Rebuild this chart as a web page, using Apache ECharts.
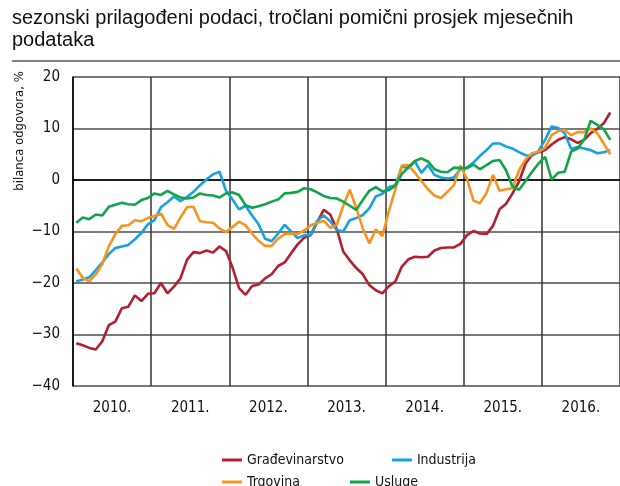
<!DOCTYPE html>
<html lang="hr">
  <head>
    <meta charset="UTF-8" />
    <title>Pokazatelji pouzdanja</title>
    <script src="https://cdn.jsdelivr.net/npm/echarts@6.0.0/dist/echarts.min.js"></script>
    <style>
      * {
        padding: 0;
        margin: 0;
      }
      #main {
        width: 620px;
        height: 486px;
        background: #ffffff;
      }
    </style>
  </head>
  <body>
    <div id="main"></div>
    <script>
      // godine na osi x
      var years = ["2010.", "2011.", "2012.", "2013.", "2014.", "2015.", "2016."];

      // mjeseci od 1/2010 do 12/2016
      var months = [];
      for (var y = 2010; y <= 2016; y++) {
        for (var m = 1; m <= 12; m++) {
          months.push(m + "/" + y);
        }
      }

      var gradjevinarstvo = [
        -31.7, -32.1, -32.6, -32.9, -31.3, -28.2, -27.5, -24.9, -24.6, -22.4,
        -23.5, -22.1, -22.0, -20.0, -22.0, -20.7, -19.1, -15.5, -14.0, -14.2,
        -13.7, -14.1, -12.9, -13.8, -17.0, -21.0, -22.3, -20.6, -20.3, -19.1,
        -18.3, -16.7, -16.0, -14.2, -12.5, -11.2, -10.7, -8.2, -5.8, -6.7,
        -9.5, -13.9, -15.6, -17.1, -18.3, -20.4, -21.4, -22.0, -20.6, -19.7,
        -16.8, -15.4, -14.9, -15.0, -14.9, -13.7, -13.2, -13.1, -13.1, -12.4,
        -10.7, -9.9, -10.4, -10.5, -8.9, -5.7, -4.6, -2.6, -0.3, 3.2,
        4.9, 5.4, 5.8, 6.9, 7.8, 8.3, 7.9, 7.2, 7.8, 9.1,
        9.9, 11.0, 13.1
      ];
      var industrija = [
        -19.7, -19.3, -18.9, -17.5, -16.0, -14.4, -13.2, -12.9, -12.6, -11.5,
        -10.3, -8.6, -7.8, -5.3, -4.3, -3.2, -4.1, -3.3, -2.3, -1.0,
        0.1, 1.1, 1.6, -2.1, -3.8, -5.7, -5.0, -6.9, -8.6, -11.4,
        -11.9, -10.4, -8.7, -10.0, -11.3, -10.7, -10.7, -7.9, -6.9, -8.0,
        -9.7, -10.0, -7.8, -7.4, -6.8, -5.5, -3.2, -2.7, -1.4, -1.0,
        2.6, 2.3, 3.6, 1.4, 2.9, 1.0, 0.5, 0.3, 0.5, 2.1,
        2.4, 3.4, 4.7, 5.8, 7.1, 7.1, 6.5, 6.1, 5.4, 4.8,
        4.7, 5.7, 7.8, 10.4, 10.1, 9.1, 6.0, 6.4, 6.1, 5.8,
        5.2, 5.4, 5.8
      ];
      var trgovina = [
        -17.2, -19.0, -19.7, -18.3, -16.3, -12.9, -10.5, -8.9, -8.8, -7.8,
        -8.0, -7.4, -7.0, -6.5, -8.7, -9.5, -7.3, -5.3, -5.2, -8.0,
        -8.2, -8.3, -9.4, -10.1, -9.1, -8.1, -8.8, -10.4, -11.8, -12.8,
        -12.8, -11.4, -10.5, -10.4, -10.5, -9.8, -8.8, -8.3, -7.9, -9.3,
        -8.7, -5.0, -1.9, -5.4, -9.4, -12.3, -9.6, -10.9, -6.1, -1.8,
        2.8, 2.9, 1.4, -0.2, -1.8, -3.0, -3.5, -2.3, -1.0, 2.8,
        0.2, -4.0, -4.5, -2.5, 1.0, -2.1, -1.8, -1.6, 1.9, 4.0,
        5.2, 5.5, 6.3, 8.7, 9.5, 9.7, 8.7, 9.3, 9.3, 10.0,
        9.1, 7.1, 5.0
      ];
      var usluge = [
        -8.3, -7.3, -7.6, -6.7, -6.9, -5.2, -4.8, -4.4, -4.7, -4.8,
        -3.9, -3.5, -2.6, -2.9, -2.1, -2.8, -3.4, -3.6, -3.4, -2.6,
        -2.9, -3.0, -3.4, -2.6, -2.4, -2.9, -4.9, -5.4, -5.1, -4.7,
        -4.2, -3.8, -2.6, -2.5, -2.3, -1.6, -1.8, -2.4, -3.1, -3.5,
        -3.6, -4.2, -5.0, -5.8, -3.9, -2.1, -1.4, -2.2, -2.0, -1.1,
        1.2, 2.5, 3.7, 4.2, 3.6, 2.1, 1.6, 1.5, 2.4, 2.3,
        2.3, 3.0, 2.1, 2.9, 3.7, 3.9, 1.9, -1.3, -1.9, -0.2,
        1.6, 3.2, 4.5, 0.1, 1.4, 1.6, 5.5, 6.1, 7.9, 11.5,
        10.7, 9.9, 7.8
      ];

      var narrow = "'Liberation Sans Narrow', 'DejaVu Sans Condensed', sans-serif";

      var myChart = echarts.init(document.getElementById("main"));
      var option = {
        backgroundColor: "#ffffff",
        animation: false,
        title: {
          text: "sezonski prilagođeni podaci, tročlani pomični prosjek mjesečnih\npodataka",
          left: 12,
          top: 7,
          padding: 0,
          textStyle: {
            fontFamily: "'Liberation Sans', Arial, sans-serif",
            fontSize: 20,
            fontWeight: "normal",
            lineHeight: 22,
            color: "#111111",
          },
        },
        graphic: [
          {
            type: "line",
            shape: { x1: 12, y1: 61, x2: 620, y2: 61 },
            style: { stroke: "#808080", lineWidth: 2 },
          },
          {
            type: "text",
            x: 20,
            y: 131,
            rotation: Math.PI / 2,
            style: {
              text: "bilanca odgovora, %",
              font: "13px " + narrow,
              fill: "#111111",
              align: "center",
              verticalAlign: "middle",
              textAlign: "center",
              textVerticalAlign: "middle",
            },
          },
        ],
        legend: [
          {
            left: 222,
            top: 453,
            padding: 0,
            itemWidth: 20,
            itemHeight: 3,
            itemGap: 48,
            icon: "rect",
            textStyle: { fontFamily: narrow, fontSize: 14, color: "#111111" },
            data: ["Građevinarstvo", "Industrija"],
          },
          {
            left: 222,
            top: 475,
            padding: 0,
            itemWidth: 20,
            itemHeight: 3,
            itemGap: 50,
            icon: "rect",
            textStyle: { fontFamily: narrow, fontSize: 14, color: "#111111" },
            data: ["Trgovina", "Usluge"],
          },
        ],
        grid: {
          left: 73,
          right: -5,
          top: 77,
          bottom: 100,
          containLabel: false,
        },
        xAxis: [
          {
            type: "category",
            data: years,
            boundaryGap: true,
            position: "bottom",
            axisLine: { show: true, lineStyle: { color: "#000000", width: 1.5 } },
            axisTick: { show: false },
            axisLabel: {
              margin: 15,
              fontFamily: narrow,
              fontSize: 15,
              color: "#111111",
            },
            splitLine: {
              show: true,
              lineStyle: { color: "#333333", width: 1.5 },
            },
          },
          {
            type: "category",
            data: months,
            boundaryGap: true,
            position: "bottom",
            show: false,
          },
        ],
        yAxis: {
          type: "value",
          min: -40,
          max: 20,
          interval: 10,
          axisLine: { show: true, lineStyle: { color: "#000000", width: 1.5 } },
          axisTick: { show: false },
          axisLabel: {
            margin: 13,
            fontFamily: narrow,
            fontSize: 15,
            color: "#111111",
            formatter: function (v) {
              return String(v).replace("-", "\u2212");
            },
          },
          splitLine: {
            show: true,
            lineStyle: { color: "#4d4d4d", width: 1.5 },
          },
        },
        series: [
          {
            name: "Građevinarstvo",
            type: "line",
            xAxisIndex: 1,
            symbol: "none",
            data: gradjevinarstvo,
            lineStyle: { width: 2.6, color: "#b41f2d" },
            itemStyle: { color: "#b41f2d" },
          },
          {
            name: "Industrija",
            type: "line",
            xAxisIndex: 1,
            symbol: "none",
            data: industrija,
            lineStyle: { width: 2.6, color: "#17a1e0" },
            itemStyle: { color: "#17a1e0" },
          },
          {
            name: "Trgovina",
            type: "line",
            xAxisIndex: 1,
            symbol: "none",
            data: trgovina,
            lineStyle: { width: 2.6, color: "#f7941d" },
            itemStyle: { color: "#f7941d" },
          },
          {
            name: "Usluge",
            type: "line",
            xAxisIndex: 1,
            symbol: "none",
            data: usluge,
            lineStyle: { width: 2.6, color: "#0fa548" },
            itemStyle: { color: "#0fa548" },
          },
        ],
      };
      myChart.setOption(option);
    </script>
  </body>
</html>
